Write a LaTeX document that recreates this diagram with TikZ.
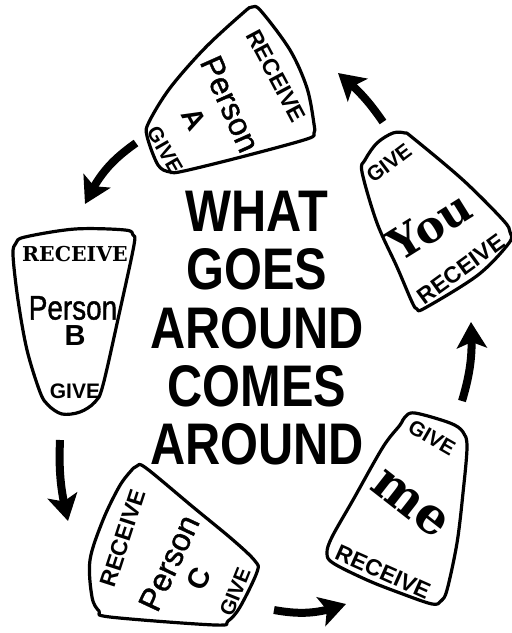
\documentclass[tikz,border=0pt]{standalone}
\usepackage{fontspec}
\setmainfont{Liberation Sans}
\newfontfamily\slabfont{DejaVu Serif}
\newfontfamily\medfont{Liberation Sans}[FakeBold=1.3]
\usepackage{graphicx}
\usetikzlibrary{arrows.meta, bending}

\newcommand{\squeeze}[2]{\scalebox{#1}[1]{#2}}

\begin{document}
\begin{tikzpicture}[x=1pt, y=-1pt,
    outline/.style={line width=3.2pt, line join=round},
    give/.style={font=\bfseries\fontsize{21}{21}\selectfont, inner sep=0pt},
    receive/.style={font=\bfseries\fontsize{23}{23}\selectfont, inner sep=0pt},
    person/.style={font=\medfont\fontsize{32}{32}\selectfont, inner sep=0pt},
    letter/.style={font=\bfseries\fontsize{29}{29}\selectfont, inner sep=0pt},
    slab/.style={font=\slabfont\bfseries, inner sep=0pt},
    cycle arrow/.style={line width=8pt, -{Stealth[length=26pt, width=30pt, inset=6pt]}}
]

    \useasboundingbox (0,0) rectangle (512,633);

    % --- TITLE ---
    \node[anchor=north, inner sep=0pt, align=center,
          font=\bfseries\fontsize{58.7}{58.3}\selectfont] (title) at (257,191)
        {\squeeze{0.83}{WHAT}\\ \squeeze{0.83}{GOES}\\ \squeeze{0.83}{AROUND}\\
         \squeeze{0.83}{COMES}\\ \squeeze{0.83}{AROUND}};

    % --- PERSON A (top) ---
    \draw[outline] plot[smooth cycle, tension=0.55] coordinates {
        (243,13) (252,7) (261,11) (290,50) (307,88) (314,124) (314,133) (307,139)
        (245,156) (184,171) (170,172) (158,165) (147,136) (149,122) (170,88) (205,48)};
    \node[receive, rotate=-62] (recA) at (276,76) {RECEIVE};
    \node[person, rotate=-66] (nameA) at (230,104) {Person};
    \node[letter, rotate=-62] (letA) at (194,119) {A};
    \node[give, rotate=-60] (giveA) at (165,150) {GIVE};

    % --- PERSON B (left) ---
    \draw[outline] plot[smooth cycle, tension=0.55] coordinates {
        (13,255) (16,243) (25,237) (75,229) (125,230) (133,235) (134,245) (120,310)
        (103,385) (95,402) (80,412) (62,414) (48,405) (40,392) (27,350) (18,300)};
    \node[slab, font=\slabfont\bfseries\fontsize{20.5}{20.5}\selectfont] (recB) at (75,254) {RECEIVE};
    \node[person, font=\medfont\fontsize{34}{34}\selectfont] (nameB) at (73,308) {\squeeze{0.82}{Person}};
    \node[letter] (letB) at (75,336) {B};
    \node[give] (giveB) at (75,391) {GIVE};

    % --- PERSON C (bottom left) ---
    \draw[outline] plot[smooth cycle, tension=0.55] coordinates {
        (130,472) (137,466) (146,468) (193,507) (233,540) (255,561) (257,572) (240,607)
        (228,621) (215,625) (110,617) (99,611) (92,597) (90,560) (103,520) (119,487)};
    \node[receive, rotate=72] (recC) at (123,538) {RECEIVE};
    \node[person, rotate=65] (nameC) at (169,563) {Person};
    \node[letter, rotate=65] (letC) at (199,579) {C};
    \node[give, rotate=68] (giveC) at (235,592) {GIVE};

    % --- ME (bottom right) ---
    \draw[outline] plot[smooth cycle, tension=0.55] coordinates {
        (400,425) (405,417) (415,413) (450,423) (463,432) (467,447) (463,493) (457,543)
        (447,590) (441,601) (432,604) (400,593) (367,580) (333,563) (327,553) (332,537)
        (353,500) (383,447)};
    \node[give, rotate=-30] (giveMe) at (432,438) {GIVE};
    \node[slab, rotate=-38, font=\slabfont\bfseries\fontsize{50}{50}\selectfont] (me) at (410,504) {me};
    \node[receive, rotate=-24] (recMe) at (383,572) {RECEIVE};

    % --- YOU (right) ---
    \draw[outline] plot[smooth cycle, tension=0.55] coordinates {
        (362,172) (365,160) (377,143) (393,133) (405,133) (413,138) (463,180) (503,220)
        (510,232) (509,243) (478,275) (425,308) (417,309) (412,302) (397,267) (377,223)};
    \node[give, rotate=37] (giveYou) at (389,163) {GIVE};
    \node[slab, rotate=32, font=\slabfont\bfseries\fontsize{44}{44}\selectfont] (you) at (430,226) {You};
    \node[receive, rotate=36] (recYou) at (461,269) {RECEIVE};

    % --- ARROWS ---
    \coordinate (ab1) at (136,143);  \coordinate (ab2) at (85,204);
    \coordinate (bc1) at (60,440);   \coordinate (bc2) at (68,521);
    \coordinate (cm1) at (274,610);  \coordinate (cm2) at (346,604);
    \coordinate (my1) at (462,401);  \coordinate (my2) at (471,322);
    \coordinate (ya1) at (383,122);  \coordinate (ya2) at (338,73);

    \draw[cycle arrow] (ab1) to[bend right=15] (ab2);
    \draw[cycle arrow] (bc1) to[bend right=8] (bc2);
    \draw[cycle arrow] (cm1) to[bend right=15] (cm2);
    \draw[cycle arrow] (my1) to[bend right=10] (my2);
    \draw[cycle arrow] (ya1) to[bend right=8] (ya2);

\end{tikzpicture}
\end{document}
